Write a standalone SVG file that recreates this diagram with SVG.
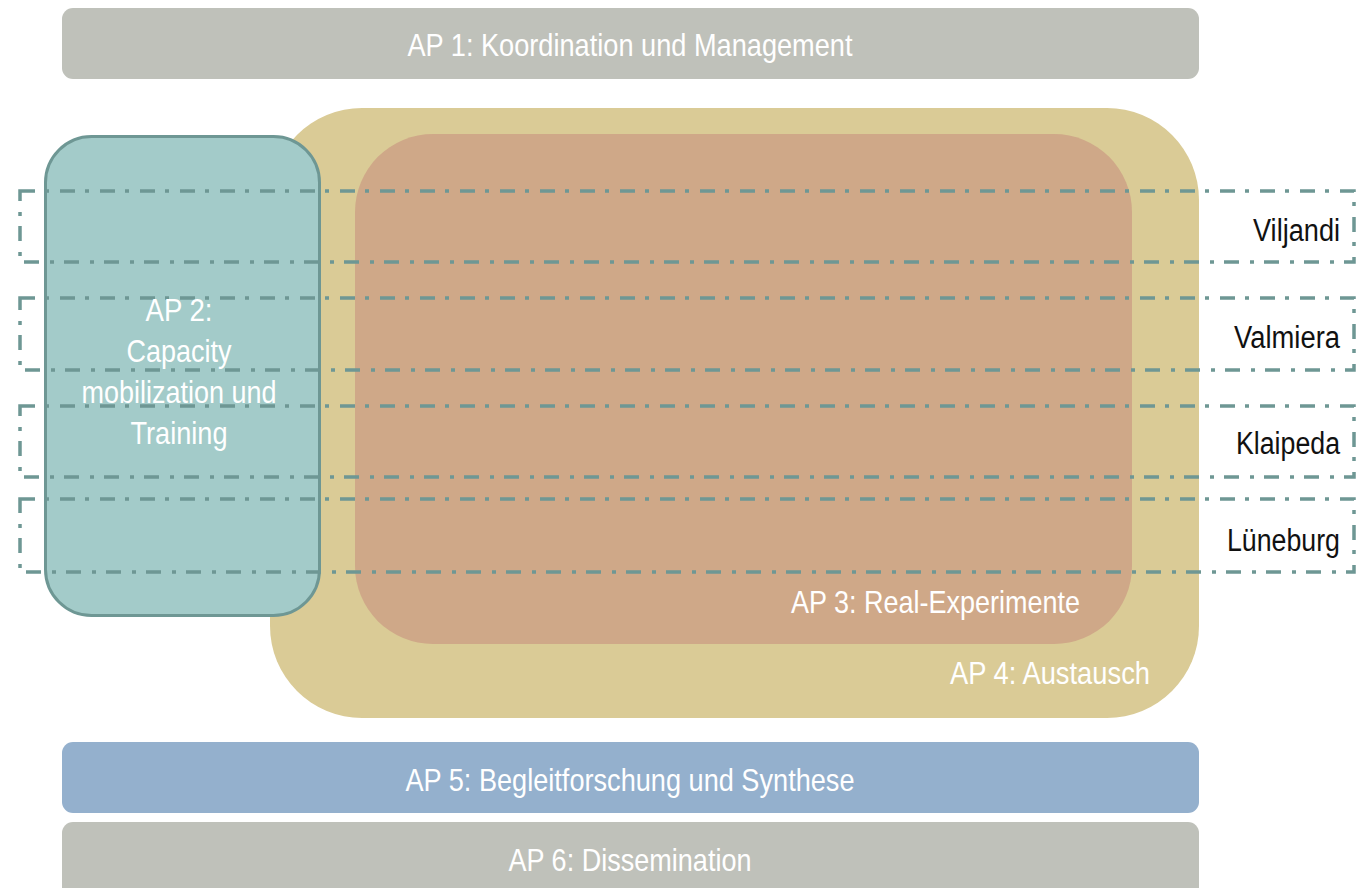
<svg xmlns="http://www.w3.org/2000/svg" width="1358" height="888" viewBox="0 0 1358 888">
<style>
.w{fill:#ffffff;font-family:"Liberation Sans",Arial,sans-serif;font-size:32px}
.b{fill:#111111;font-family:"Liberation Sans",Arial,sans-serif;font-size:31px}
.site{fill:none;stroke:#6E9794;stroke-width:3.5;stroke-dasharray:15 10 4 11}
</style>
<rect width="1358" height="888" fill="#ffffff"/>
<g id="ap1">
<rect x="62" y="8" width="1137" height="71" rx="11" fill="#BFC1BA"/>
<text class="w" x="630" y="56" text-anchor="middle" textLength="445" lengthAdjust="spacingAndGlyphs">AP 1: Koordination und Management</text>
</g>
<g id="ap4">
<rect x="270" y="108" width="929" height="610" rx="92" ry="92" fill="#DACB96"/>
<text class="w" x="1150" y="684" text-anchor="end" textLength="200" lengthAdjust="spacingAndGlyphs">AP 4: Austausch</text>
</g>
<g id="ap3">
<rect x="355" y="134" width="777" height="510" rx="78" ry="78" fill="#CFA888"/>
<text class="w" x="1080" y="613" text-anchor="end" textLength="289" lengthAdjust="spacingAndGlyphs">AP 3: Real-Experimente</text>
</g>
<g id="ap2">
<rect x="45.5" y="136.5" width="274" height="479" rx="46" ry="46" fill="#A3CBC9" stroke="#6E9794" stroke-width="3"/>
</g>
<g id="sites">
<rect class="site" x="20" y="191" width="1334" height="71"/>
<rect class="site" x="20" y="298" width="1334" height="72"/>
<rect class="site" x="20" y="406" width="1334" height="71"/>
<rect class="site" x="20" y="499" width="1334" height="73"/>
</g>
<g id="labels">
<text class="b" x="1340" y="241" text-anchor="end" textLength="87" lengthAdjust="spacingAndGlyphs">Viljandi</text>
<text class="b" x="1340" y="348" text-anchor="end" textLength="106" lengthAdjust="spacingAndGlyphs">Valmiera</text>
<text class="b" x="1340" y="454" text-anchor="end" textLength="104" lengthAdjust="spacingAndGlyphs">Klaipeda</text>
<text class="b" x="1340" y="551" text-anchor="end" textLength="113" lengthAdjust="spacingAndGlyphs">Lüneburg</text>
</g>
<g id="ap2-label">
<text class="w" x="179" y="321" text-anchor="middle" textLength="67" lengthAdjust="spacingAndGlyphs">AP 2:</text>
<text class="w" x="179" y="362" text-anchor="middle" textLength="105" lengthAdjust="spacingAndGlyphs">Capacity</text>
<text class="w" x="179" y="403" text-anchor="middle" textLength="195" lengthAdjust="spacingAndGlyphs">mobilization und</text>
<text class="w" x="179" y="444" text-anchor="middle" textLength="97" lengthAdjust="spacingAndGlyphs">Training</text>
</g>
<g id="ap5">
<rect x="62" y="742" width="1137" height="71" rx="11" fill="#94B0CD"/>
<text class="w" x="630" y="791" text-anchor="middle" textLength="449" lengthAdjust="spacingAndGlyphs">AP 5: Begleitforschung und Synthese</text>
</g>
<g id="ap6">
<rect x="62" y="822" width="1137" height="80" rx="11" fill="#BFC1BA"/>
<text class="w" x="630" y="871" text-anchor="middle" textLength="243" lengthAdjust="spacingAndGlyphs">AP 6: Dissemination</text>
</g>
</svg>
